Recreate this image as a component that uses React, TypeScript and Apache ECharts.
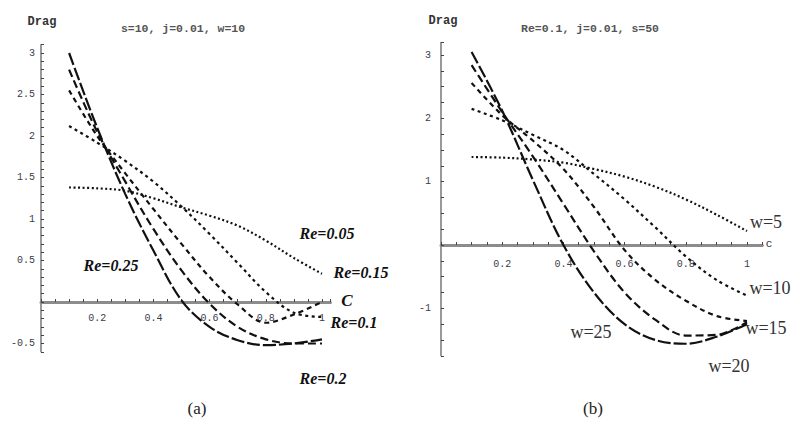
import React, { useEffect, useRef } from "react";
import * as echarts from "echarts";

// ---- data ----
const cValues = [0.1, 0.2, 0.3, 0.4, 0.5, 0.6, 0.7, 0.8, 0.9, 1.0];

// panel (a): s=10, j=0.01, w=10
const reLabels = ["Re=0.05", "Re=0.1", "Re=0.15", "Re=0.2", "Re=0.25"];
const dragRe005 = [1.38, 1.37, 1.34, 1.25, 1.14, 1.04, 0.92, 0.74, 0.53, 0.34];
const dragRe01 = [2.12, 1.92, 1.7, 1.45, 1.15, 0.82, 0.47, 0.12, -0.13, -0.18];
const dragRe015 = [2.55, 2.0, 1.55, 1.12, 0.7, 0.3, -0.03, -0.25, -0.15, 0.0];
const dragRe02 = [2.8, 2.05, 1.45, 0.88, 0.38, -0.02, -0.3, -0.45, -0.5, -0.5];
const dragRe025 = [3.0, 2.1, 1.3, 0.62, 0.02, -0.3, -0.46, -0.52, -0.5, -0.45];

// panel (b): Re=0.1, j=0.01, s=50
const wLabels = ["w=5", "w=10", "w=15", "w=20", "w=25"];
const dragW5 = [1.39, 1.38, 1.35, 1.3, 1.2, 1.08, 0.92, 0.72, 0.48, 0.22];
const dragW10 = [2.15, 1.97, 1.74, 1.5, 1.12, 0.72, 0.28, -0.18, -0.55, -0.8];
const dragW15 = [2.56, 2.05, 1.65, 1.2, 0.6, -0.08, -0.55, -0.88, -1.12, -1.2];
const dragW20 = [2.84, 2.1, 1.4, 0.65, -0.1, -0.75, -1.18, -1.43, -1.42, -1.22];
const dragW25 = [3.05, 2.12, 1.03, 0.0, -0.75, -1.25, -1.5, -1.56, -1.45, -1.25];

const dashPatterns = [[2, 2.5], [3, 3.5], [5, 4], [8, 4], [13, 3]];

const monoFont = '"Liberation Mono", "DejaVu Sans Mono", monospace';
const serifFont = '"Liberation Serif", "DejaVu Serif", serif';

function near(v: number, step: number) {
  const r = Math.round(v / step);
  return Math.abs(v / step - r) < 1e-6 ? r : null;
}

export default function App() {
  const ref = useRef<HTMLDivElement>(null);
  useEffect(() => {
    if (!ref.current) return;
    const chart = echarts.init(ref.current, undefined, { renderer: "svg" });

    const xLabelFmt = (v: number) => {
      if (Math.abs(v) < 1e-9) return "";
      const r = near(v, 0.2);
      return r === null ? "" : String(Math.round(r * 2) / 10);
    };
    const yLabelFmtA = (v: number) => {
      if (Math.abs(v) < 1e-9) return "";
      const r = near(v, 0.5);
      return r === null ? "" : String(r / 2);
    };
    const yLabelFmtB = (v: number) => {
      if (Math.abs(v) < 1e-9) return "";
      const r = near(v, 1);
      return r === null ? "" : String(r);
    };

    const tickLabel = { fontFamily: monoFont, fontSize: 10, color: "#3c3c4a" };

    // x axis drawn through y=0 by shifting it up from the grid bottom
    const mkX = (grid: number, max: number, margin: number, offset: number) => ({
      gridIndex: grid,
      type: "value",
      position: "bottom",
      offset,
      min: 0,
      max,
      interval: 0.05,
      axisLine: { onZero: false, lineStyle: { color: "#8c8c8c", width: 3 } },
      axisTick: { show: true, inside: true, length: 3, lineStyle: { color: "#444", width: 1 } },
      axisLabel: { ...tickLabel, margin, formatter: xLabelFmt },
      splitLine: { show: false },
    });
    const mkY = (grid: number, min: number, max: number, interval: number, fmt: any, margin: number) => ({
      gridIndex: grid,
      type: "value",
      min,
      max,
      interval,
      axisLine: { onZero: false, lineStyle: { color: "#777", width: 1.5 } },
      axisTick: { show: true, inside: true, length: 3, lineStyle: { color: "#444", width: 1 } },
      axisLabel: { ...tickLabel, margin, formatter: fmt },
      splitLine: { show: false },
    });

    const mkSeries = (name: string, vals: number[], idx: number, axis: number) => ({
      name,
      type: "line",
      xAxisIndex: axis,
      yAxisIndex: axis,
      data: cValues.map((c, i) => [c, vals[i]]),
      smooth: 0.35,
      showSymbol: false,
      symbol: "none",
      lineStyle: { color: "#111", width: 2.2, type: dashPatterns[idx] },
      z: 3,
    });

    const seriesA = [dragRe005, dragRe01, dragRe015, dragRe02, dragRe025].map((v, i) =>
      mkSeries(reLabels[i], v, i, 0)
    );
    const seriesB = [dragW5, dragW10, dragW15, dragW20, dragW25].map((v, i) =>
      mkSeries(wLabels[i], v, i, 1)
    );

    const txt = (text: string, x: number, y: number, font: string, fill = "#111", align = "center") => ({
      type: "text",
      x,
      y,
      z: 10,
      style: {
        text,
        font,
        fill,
        align,
        textAlign: align,
        verticalAlign: "middle",
        textVerticalAlign: "middle",
      },
    });

    const reFont = `italic bold 16px ${serifFont}`;
    const wFont = `18px ${serifFont}`;

    // grid geometry: (a) y from -0.6 to 3.1, zero at 302px; (b) y from -1.75 to 3.2, zero at 245px
    const gA = { left: 41, top: 44.7, width: 289.4, height: 307.1 };
    const gB = { left: 441, top: 42.4, width: 321.3, height: 313.4 };
    const zeroOffA = -(gA.top + gA.height - 302);
    const zeroOffB = -(gB.top + gB.height - 245);

    const option: any = {
      animation: false,
      grid: [gA, gB],
      xAxis: [mkX(0, 1.03, 11, zeroOffA), mkX(1, 1.05, 14, zeroOffB)],
      yAxis: [
        mkY(0, -0.6, 3.1, 0.1, yLabelFmtA, 6),
        mkY(1, -1.75, 3.2, 0.25, yLabelFmtB, 10),
      ],
      series: [...seriesA, ...seriesB],
      graphic: [
        txt("Drag", 42, 22, `bold 12px ${monoFont}`, "#333"),
        txt("s=10, j=0.01, w=10", 183, 28, `bold 11.5px ${monoFont}`, "#555"),
        txt("Drag", 443, 21, `bold 12px ${monoFont}`, "#333"),
        txt("Re=0.1, j=0.01, s=50", 590, 28, `bold 11.5px ${monoFont}`, "#555"),
        txt("C", 347, 300, `italic bold 17px ${serifFont}`),
        txt("c", 769, 244, `11px ${monoFont}`, "#333"),
        txt("Re=0.05", 327, 233, reFont),
        txt("Re=0.15", 361, 272, reFont),
        txt("Re=0.25", 111, 265, reFont),
        txt("Re=0.1", 354, 322, reFont),
        txt("Re=0.2", 323, 378, reFont),
        txt("w=5", 766, 222, wFont, "#333"),
        txt("w=10", 770, 288, wFont, "#333"),
        txt("w=15", 766, 328, wFont, "#333"),
        txt("w=25", 591, 332, wFont, "#333"),
        txt("w=20", 729, 366, wFont, "#333"),
        txt("(a)", 197, 408, `17px ${serifFont}`, "#222"),
        txt("(b)", 593, 408, `17px ${serifFont}`, "#222"),
      ],
    };
    chart.setOption(option);
    return () => chart.dispose();
  }, []);
  return (
    <div
      ref={ref}
      style={{ position: "fixed", left: 0, top: 0, width: 791, height: 428, background: "#fff" }}
    />
  );
}
